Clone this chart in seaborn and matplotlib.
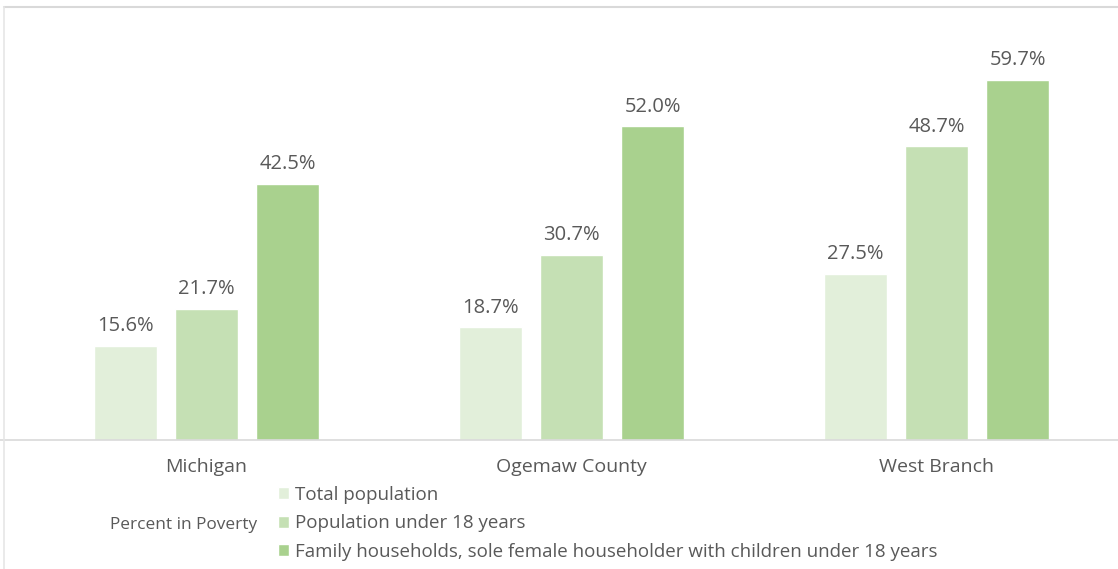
import matplotlib
matplotlib.use("Agg")
import matplotlib.pyplot as plt
import seaborn as sns
import pandas as pd
from matplotlib.lines import Line2D

regions = ["Michigan", "Ogemaw County", "West Branch"]
series = [
    "Total population",
    "Population under 18 years",
    "Family households, sole female householder with children under 18 years",
]
total_pop = [15.6, 18.7, 27.5]
under_18 = [21.7, 30.7, 48.7]
female_hh = [42.5, 52.0, 59.7]
colors = ["#e2efda", "#c5e0b4", "#a9d18e"]
legend_title = "Percent in Poverty"

rows = []
for vals, s in zip([total_pop, under_18, female_hh], series):
    for r, v in zip(regions, vals):
        rows.append({"region": r, "series": s, "value": v})
df = pd.DataFrame(rows)

sns.set_theme(style="white")
plt.rcParams["font.family"] = ["Open Sans", "DejaVu Sans"]
text_color = "#595959"

W, H = 1118, 569
fig = plt.figure(figsize=(W / 100, H / 100), dpi=100)
fig.patch.set_facecolor("white")

# axes: baseline at y=440px, top at y=7px
ax = fig.add_axes([0, (H - 440) / H, 1, (440 - 7) / H])
sns.barplot(data=df, x="region", y="value", hue="series", order=regions,
            hue_order=series, palette=colors, width=0.666, gap=0.222,
            saturation=1, ax=ax, legend=True)

ax.set_xlim(-206.5 / 365, (W - 206.5) / 365)
ax.set_ylim(0, 433 / 6.03)
ax.set_xlabel("")
ax.set_ylabel("")
ax.set_yticks([])
for side in ["top", "right", "left"]:
    ax.spines[side].set_visible(False)
ax.spines["bottom"].set_color("#d9d9d9")
ax.spines["bottom"].set_linewidth(1.2)
ax.tick_params(axis="x", length=0, pad=13, labelsize=14, labelcolor=text_color)
ax.patch.set_alpha(0)

for cont in ax.containers:
    ax.bar_label(cont, labels=[f"{v:.1f}%" for v in cont.datavalues],
                 padding=7, fontsize=14.5, color=text_color)

handles, labels = ax.get_legend_handles_labels()
ax.get_legend().remove()
leg = fig.legend(handles, labels, loc="upper left",
                 bbox_to_anchor=(278 / W, 1 - 486 / H), frameon=False,
                 fontsize=13.5, handlelength=0.6, handleheight=0.6,
                 handletextpad=0.3, labelspacing=0.56, borderpad=0,
                 borderaxespad=0)
for t in leg.get_texts():
    t.set_color(text_color)
fig.text(110 / W, 1 - 525 / H, legend_title, fontsize=12.4, color=text_color,
         va="center", ha="left")

# thin frame along the top and left edges
fig.add_artist(Line2D([4 / W, 1], [1 - 7 / H, 1 - 7 / H], color="#d9d9d9",
                      lw=1.5, transform=fig.transFigure))
fig.add_artist(Line2D([4 / W, 4 / W], [0, 1 - 7 / H], color="#e6e6e6",
                      lw=1.2, transform=fig.transFigure))

fig.savefig("out.png", dpi=100)
